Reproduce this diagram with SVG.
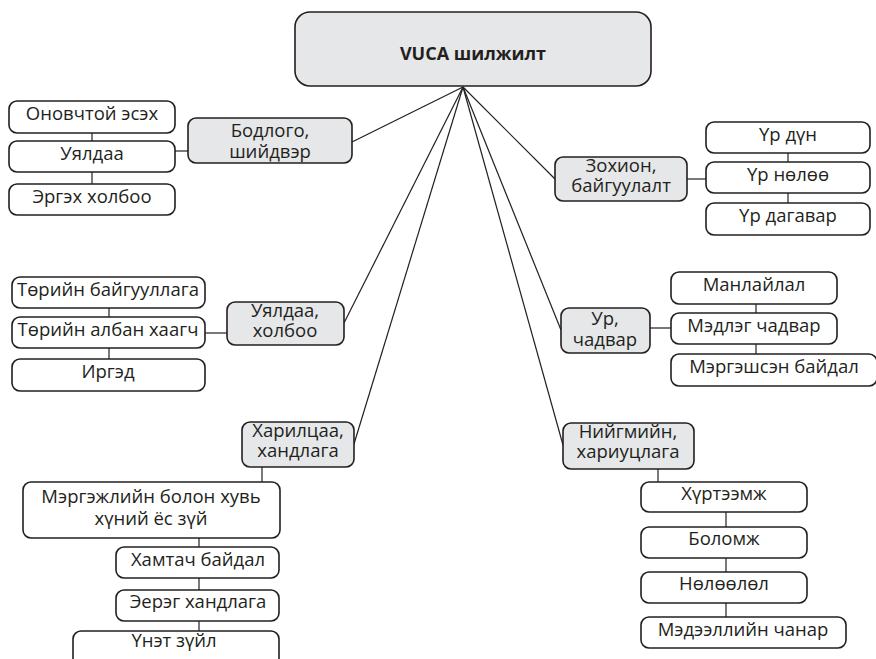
<svg xmlns="http://www.w3.org/2000/svg" width="876" height="659" viewBox="0 0 876 659">
<style>
  .bx{fill:#ffffff;stroke:#231f20;stroke-width:1.6}
  .gb{fill:#e6e7e8;stroke:#231f20;stroke-width:1.6}
  .t{font-family:"Open Sans","Noto Sans",sans-serif;font-size:18.5px;fill:#231f20;text-anchor:middle}
  .tb{font-family:"Open Sans","Noto Sans",sans-serif;font-size:18px;font-weight:bold;fill:#231f20;text-anchor:middle}
  .ln{stroke:#231f20;stroke-width:1.2;fill:none}
</style>
<rect width="876" height="659" fill="#ffffff"/>
<g id="connectors">
  <line class="ln" x1="463" y1="87" x2="352" y2="142"/>
  <line class="ln" x1="463" y1="87" x2="344" y2="323"/>
  <line class="ln" x1="463" y1="87" x2="354" y2="444"/>
  <line class="ln" x1="463" y1="87" x2="555" y2="179"/>
  <line class="ln" x1="463" y1="87" x2="561" y2="330"/>
  <line class="ln" x1="463" y1="87" x2="563" y2="445"/>
  <line class="ln" x1="175" y1="151" x2="188" y2="151"/>
  <line class="ln" x1="92" y1="133" x2="92" y2="184"/>
  <line class="ln" x1="687" y1="179" x2="706" y2="179"/>
  <line class="ln" x1="788" y1="153" x2="788" y2="203"/>
  <line class="ln" x1="205" y1="333" x2="227" y2="333"/>
  <line class="ln" x1="109" y1="308" x2="109" y2="359"/>
  <line class="ln" x1="650" y1="328" x2="671" y2="328"/>
  <line class="ln" x1="756" y1="304" x2="756" y2="354"/>
  <line class="ln" x1="262" y1="467" x2="262" y2="482"/>
  <line class="ln" x1="199" y1="538" x2="199" y2="631"/>
  <line class="ln" x1="658" y1="469" x2="658" y2="482"/>
  <line class="ln" x1="726" y1="512" x2="726" y2="617"/>
</g>
<g id="root">
  <rect class="gb" x="295" y="12" width="356" height="74" rx="15"/>
  <text class="tb" x="473" y="60">VUCA шилжилт</text>
</g>
<g id="bodlogo">
  <rect class="gb" x="188" y="118" width="164" height="45" rx="8"/>
  <text class="t" x="270" y="137">Бодлого,</text>
  <text class="t" x="270" y="158">шийдвэр</text>
</g>
<g id="onovchtoi">
  <rect class="bx" x="9" y="101" width="166" height="32" rx="8"/>
  <text class="t" x="92" y="120">Оновчтой эсэх</text>
</g>
<g id="uyaldaa1">
  <rect class="bx" x="9" y="141" width="166" height="31" rx="8"/>
  <text class="t" x="92" y="160">Уялдаа</text>
</g>
<g id="ergekh">
  <rect class="bx" x="9" y="184" width="166" height="31" rx="8"/>
  <text class="t" x="92" y="203">Эргэх холбоо</text>
</g>
<g id="zokhion">
  <rect class="gb" x="555" y="157" width="132" height="44" rx="8"/>
  <text class="t" x="621" y="172">Зохион,</text>
  <text class="t" x="621" y="192">байгуулалт</text>
</g>
<g id="ur-dun">
  <rect class="bx" x="706" y="122" width="164" height="31" rx="8"/>
  <text class="t" x="788" y="141">Үр дүн</text>
</g>
<g id="ur-nolоо">
  <rect class="bx" x="706" y="162" width="164" height="31" rx="8"/>
  <text class="t" x="788" y="181">Үр нөлөө</text>
</g>
<g id="ur-dagavar">
  <rect class="bx" x="706" y="203" width="164" height="32" rx="8"/>
  <text class="t" x="788" y="222">Үр дагавар</text>
</g>
<g id="uyaldaa-kholboo">
  <rect class="gb" x="227" y="302" width="117" height="43" rx="8"/>
  <text class="t" x="285" y="317">Уялдаа,</text>
  <text class="t" x="285" y="337">холбоо</text>
</g>
<g id="toriin-baiguullaga">
  <rect class="bx" x="12" y="277" width="193" height="31" rx="8"/>
  <text class="t" x="108" y="296">Төрийн байгууллага</text>
</g>
<g id="toriin-alban">
  <rect class="bx" x="12" y="317" width="193" height="31" rx="8"/>
  <text class="t" x="108" y="336">Төрийн албан хаагч</text>
</g>
<g id="irged">
  <rect class="bx" x="12" y="359" width="193" height="32" rx="8"/>
  <text class="t" x="108" y="378">Иргэд</text>
</g>
<g id="ur-chadvar">
  <rect class="gb" x="561" y="308" width="89" height="45" rx="8"/>
  <text class="t" x="605" y="325">Ур,</text>
  <text class="t" x="605" y="346">чадвар</text>
</g>
<g id="manlailal">
  <rect class="bx" x="671" y="272" width="166" height="32" rx="8"/>
  <text class="t" x="754" y="291">Манлайлал</text>
</g>
<g id="medleg">
  <rect class="bx" x="671" y="313" width="166" height="31" rx="8"/>
  <text class="t" x="754" y="332">Мэдлэг чадвар</text>
</g>
<g id="mergeshsen">
  <rect class="bx" x="671" y="354" width="206" height="32" rx="8"/>
  <text class="t" x="774" y="373">Мэргэшсэн байдал</text>
</g>
<g id="khariltsaa">
  <rect class="gb" x="242" y="422" width="112" height="45" rx="8"/>
  <text class="t" x="298" y="437">Харилцаа,</text>
  <text class="t" x="298" y="457">хандлага</text>
</g>
<g id="mergejliin">
  <rect class="bx" x="23" y="482" width="257" height="56" rx="8"/>
  <text class="t" x="151" y="503">Мэргэжлийн болон хувь</text>
  <text class="t" x="151" y="525">хүний ёс зүй</text>
</g>
<g id="khamtach">
  <rect class="bx" x="116" y="547" width="163" height="31" rx="8"/>
  <text class="t" x="198" y="566">Хамтач байдал</text>
</g>
<g id="eereg">
  <rect class="bx" x="116" y="590" width="163" height="31" rx="8"/>
  <text class="t" x="198" y="608">Эерэг хандлага</text>
</g>
<g id="unet">
  <rect class="bx" x="73" y="631" width="206" height="40" rx="8"/>
  <text class="t" x="174" y="647">Үнэт зүйл</text>
</g>
<g id="niigmiin">
  <rect class="gb" x="563" y="423" width="131" height="46" rx="8"/>
  <text class="t" x="628" y="438">Нийгмийн,</text>
  <text class="t" x="628" y="458">хариуцлага</text>
</g>
<g id="khurteemj">
  <rect class="bx" x="641" y="482" width="166" height="30" rx="8"/>
  <text class="t" x="724" y="500">Хүртээмж</text>
</g>
<g id="bolomj">
  <rect class="bx" x="641" y="527" width="166" height="31" rx="8"/>
  <text class="t" x="724" y="545">Боломж</text>
</g>
<g id="noloolol">
  <rect class="bx" x="641" y="572" width="166" height="31" rx="8"/>
  <text class="t" x="724" y="590">Нөлөөлөл</text>
</g>
<g id="medeelliin">
  <rect class="bx" x="641" y="617" width="205" height="31" rx="8"/>
  <text class="t" x="743" y="636">Мэдээллийн чанар</text>
</g>
</svg>
